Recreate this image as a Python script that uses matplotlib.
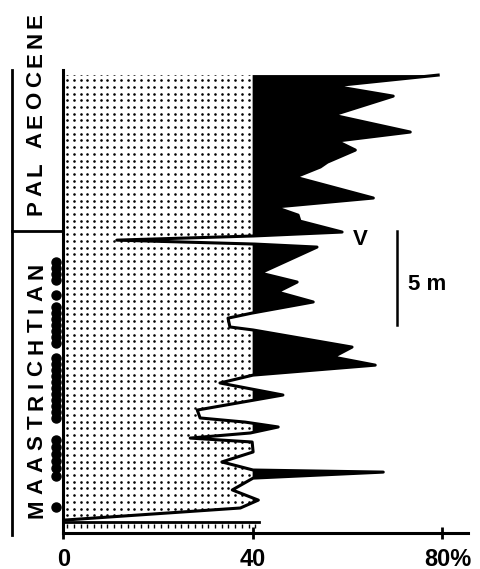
import numpy as np
import matplotlib
matplotlib.use("Agg")
import matplotlib.pyplot as plt
from matplotlib.font_manager import FontProperties
from matplotlib.textpath import TextToPath

# carbonate curve: height above base of section (m) and value (%)
height_m = np.array([23.67, 23.09, 22.55, 21.54, 20.64, 20.16, 19.68, 19.04, 18.78, 18.24,
                     17.13, 16.65, 16.22, 15.90, 15.32, 15.11, 14.89, 14.68, 14.52, 13.14,
                     12.66, 12.13, 11.60, 11.01, 10.74, 10.27, 10.11, 9.20, 8.67, 8.24,
                     7.71, 7.29, 6.65, 5.85, 5.43, 5.21, 4.95, 4.63, 4.36, 4.15,
                     3.62, 3.09, 2.66, 2.55, 2.23, 1.60, 1.06, 0.64, 0.0])
value_pct = np.array([79.2, 57.0, 69.7, 57.0, 73.3, 57.8, 61.7, 55.8, 54.3, 49.0,
                      65.5, 44.7, 49.6, 50.0, 58.9, 40.1, 11.3, 40.5, 53.6, 41.6,
                      49.4, 45.2, 52.8, 39.9, 34.8, 35.2, 40.1, 61.0, 57.0, 65.9,
                      40.1, 33.1, 46.4, 28.3, 28.9, 38.4, 45.4, 39.5, 26.8, 39.9,
                      40.1, 33.5, 40.1, 67.6, 40.1, 35.7, 41.2, 37.4, 0.4])

# sample levels (m)
samples_m = [13.72, 13.40, 13.09, 12.77, 11.97, 11.33, 11.01, 10.69, 10.37, 10.05,
             9.73, 9.41, 8.62, 8.30, 7.98, 7.66, 7.34, 7.02, 6.70, 6.38,
             6.06, 5.74, 5.43, 4.26, 3.88, 3.51, 3.14, 2.77, 2.34, 0.69]

threshold = 40
xticks = [0, 40, 80]
xlabels = ["0", "40", "80%"]

W, H = 480, 569
fig = plt.figure(figsize=(W / 100, H / 100), dpi=100)
ax = fig.add_axes([63.3 / W, 36 / H, 404.7 / W, 463 / H])
ax.set_xlim(0, 85.5)
ax.set_ylim(-0.69, 23.94)
for s in ["top", "right"]:
    ax.spines[s].set_visible(False)
for s in ["left", "bottom"]:
    ax.spines[s].set_linewidth(2.2)
ax.set_yticks([])
ax.set_xticks(xticks)
ax.tick_params(axis="x", direction="inout", length=9, width=2, labelbottom=False)

# black where above 40 %
ax.fill_betweenx(height_m, threshold, value_pct, where=value_pct >= threshold,
                 interpolate=True, color="k", lw=0)

# stippled part below min(curve, 40)
poly = ax.fill_betweenx(height_m, 0, value_pct, facecolor="none", lw=0)
gx, gy = np.meshgrid(np.arange(0.8, threshold - 0.3, 1.42), np.arange(23.75, -0.5, -0.356))
dots = ax.scatter(gx.ravel(), gy.ravel(), s=3.5, c="k", lw=0)
dots.set_clip_path(poly.get_paths()[0], ax.transData)

ax.plot(value_pct, height_m, color="k", lw=2.2)

# base bed
ax.plot([0, 41.3], [-0.11, -0.11], color="k", lw=2)
tx = np.arange(0.8, 41, 1.42)
ax.scatter(tx, np.full(len(tx), -0.3), marker="|", s=8, c="k", lw=1)

# samples
ax.plot(np.full(len(samples_m), -1.6), samples_m, "o", color="k", ms=6.5, clip_on=False)

# scale bar and labels
ax.plot([70.5, 70.5], [10.4, 15.4], color="k", lw=1.8)
ax.text(72.9, 12.25, "5 m", fontsize=16, fontweight="bold", family="Liberation Sans",
        ha="left", va="baseline")
ax.text(62.7, 14.63, "V", fontsize=16, fontweight="bold", family="Liberation Sans",
        ha="center", va="baseline")

for xt, lab in zip(xticks, xlabels):
    if lab.endswith("%"):
        ax.text(xt - 3.8, -2.42, lab, fontsize=17, fontweight="bold",
                family="Liberation Sans", ha="left", va="baseline")
    else:
        ax.text(xt, -2.42, lab, fontsize=17, fontweight="bold",
                family="Liberation Sans", ha="center", va="baseline")

# stratigraphic column in pixel coords
ov = fig.add_axes([0, 0, 1, 1])
ov.set_xlim(0, W)
ov.set_ylim(H, 0)
ov.axis("off")
ov.patch.set_alpha(0)
ov.plot([12, 12], [70, 535], color="k", lw=2)
ov.plot([12, 62], [231, 231], color="k", lw=2)


def spaced_vertical(text, x, y_bottom, y_top, fs):
    fp = FontProperties(family="Liberation Sans", size=fs, weight="bold")
    t2p = TextToPath()
    widths = [t2p.get_text_width_height_descent(c, fp, ismath=False)[0] * 100 / 72 for c in text]
    gap = ((y_bottom - y_top) - sum(widths)) / (len(text) - 1)
    pos = y_bottom
    for c, w in zip(text, widths):
        ov.text(x, pos - w / 2, c, rotation=90, ha="center", va="center",
                fontproperties=fp)
        pos -= w + gap


spaced_vertical("PAL AEOCENE", 36, 215, 13, 16)
spaced_vertical("MAASTRICHTIAN", 37, 518, 263, 16)

fig.savefig("out.png", dpi=100)
